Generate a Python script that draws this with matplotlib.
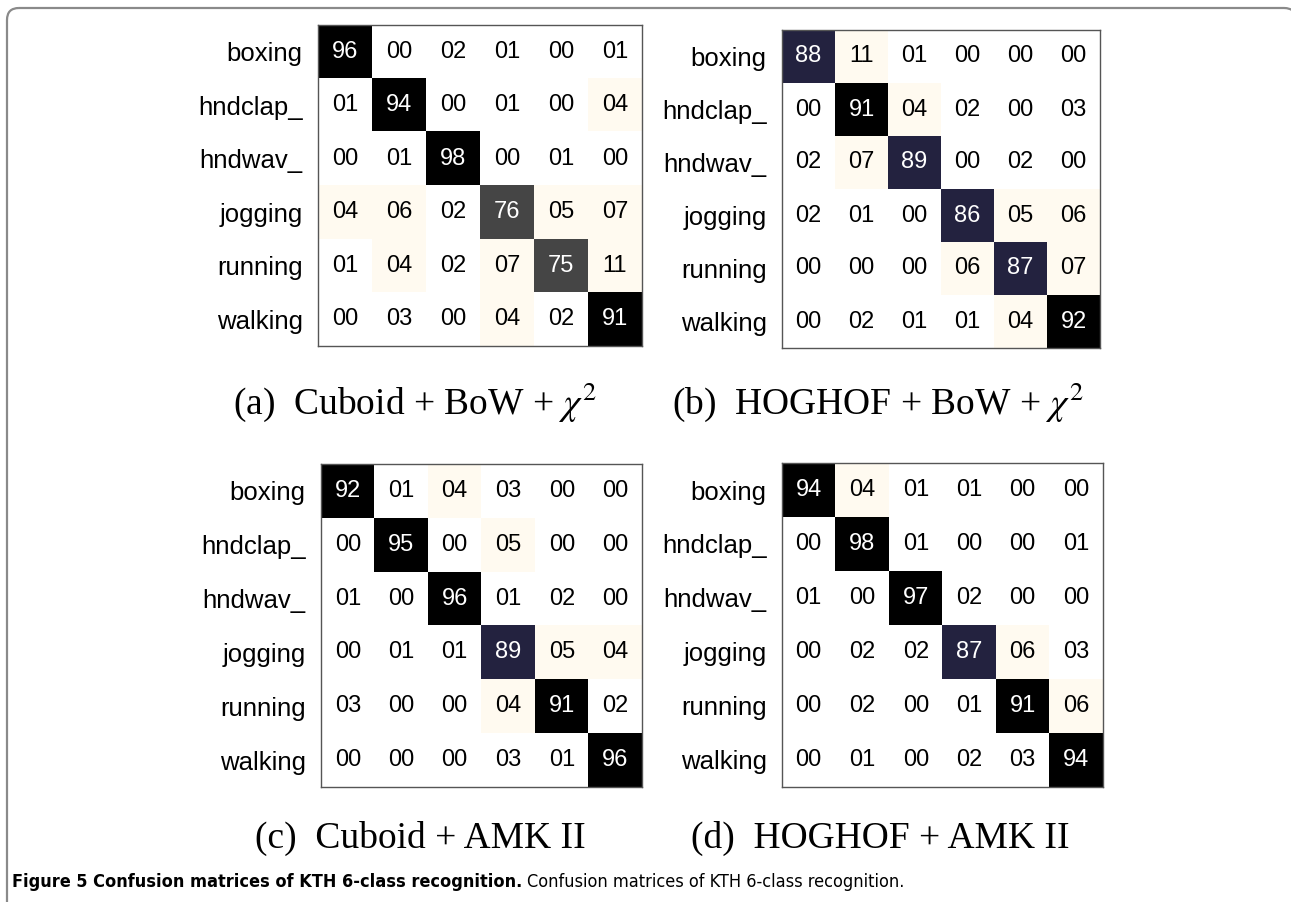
import matplotlib
matplotlib.use("Agg")
import matplotlib.pyplot as plt
import numpy as np
from matplotlib.colors import ListedColormap, BoundaryNorm
from matplotlib.patches import FancyBboxPatch

classes = ["boxing", "hndclap_", "hndwav_", "jogging", "running", "walking"]

cuboid_bow = [[96, 0, 2, 1, 0, 1],
              [1, 94, 0, 1, 0, 4],
              [0, 1, 98, 0, 1, 0],
              [4, 6, 2, 76, 5, 7],
              [1, 4, 2, 7, 75, 11],
              [0, 3, 0, 4, 2, 91]]
hoghof_bow = [[88, 11, 1, 0, 0, 0],
              [0, 91, 4, 2, 0, 3],
              [2, 7, 89, 0, 2, 0],
              [2, 1, 0, 86, 5, 6],
              [0, 0, 0, 6, 87, 7],
              [0, 2, 1, 1, 4, 92]]
cuboid_amk = [[92, 1, 4, 3, 0, 0],
              [0, 95, 0, 5, 0, 0],
              [1, 0, 96, 1, 2, 0],
              [0, 1, 1, 89, 5, 4],
              [3, 0, 0, 4, 91, 2],
              [0, 0, 0, 3, 1, 96]]
hoghof_amk = [[94, 4, 1, 1, 0, 0],
              [0, 98, 1, 0, 0, 1],
              [1, 0, 97, 2, 0, 0],
              [0, 2, 2, 87, 6, 3],
              [0, 2, 0, 1, 91, 6],
              [0, 1, 0, 2, 3, 94]]

captions = [r"(a)  Cuboid + BoW + $\chi^2$",
            r"(b)  HOGHOF + BoW + $\chi^2$",
            r"(c)  Cuboid + AMK II",
            r"(d)  HOGHOF + AMK II"]

W, H = 1291, 902
plt.rcParams["mathtext.fontset"] = "stix"
fig = plt.figure(figsize=(W / 100, H / 100), dpi=100)

cmap = ListedColormap(["#ffffff", "#fffaf0", "#454545", "#23223f", "#000000"])
norm = BoundaryNorm([-0.5, 3.5, 40, 80, 89.5, 101], cmap.N)

# background frame
bg = fig.add_axes([0, 0, 1, 1], zorder=-1)
bg.set_xlim(0, W)
bg.set_ylim(H, 0)
bg.axis("off")
bg.add_patch(FancyBboxPatch((7, 8), 1289, 1200, boxstyle="round,pad=0,rounding_size=12",
                            fc="none", ec="#8a8a8a", lw=1.6))

# (left, top, right, bottom) in pixels
boxes = [(318, 25, 642, 346), (782, 30, 1100, 348),
         (321, 464, 642, 787), (782, 463, 1103, 787)]
cap_pos = [(415, 402), (878, 402), (420, 838), (880, 838)]
mats = [cuboid_bow, hoghof_bow, cuboid_amk, hoghof_amk]

for (l, t, r, b), m, cap, (cx, cy) in zip(boxes, mats, captions, cap_pos):
    ax = fig.add_axes([l / W, 1 - b / H, (r - l) / W, (b - t) / H])
    arr = np.array(m)
    ax.imshow(arr, cmap=cmap, norm=norm, aspect="auto", interpolation="nearest")
    for i in range(arr.shape[0]):
        for j in range(arr.shape[1]):
            v = arr[i, j]
            ax.text(j, i, "%02d" % v, ha="center", va="center",
                    fontsize=17, family="Liberation Sans",
                    color="white" if v >= 70 else "black")
    ax.set_xticks([])
    ax.set_yticks(range(len(classes)))
    ax.set_yticklabels(classes, fontsize=18.5, family="Liberation Sans")
    ax.tick_params(axis="y", length=0, pad=11)
    for s in ax.spines.values():
        s.set_color("#555555")
        s.set_linewidth(1.0)
    fig.text(cx / W, 1 - cy / H, cap, ha="center", va="center",
             fontsize=27, family="Liberation Serif")

t1 = fig.text(12 / W, 1 - 882 / H, "Figure 5 Confusion matrices of KTH 6-class recognition.",
              ha="left", va="center", fontsize=13, fontweight="bold",
              family="DejaVu Sans", fontstretch="condensed")
fig.canvas.draw()
bb = t1.get_window_extent()
fig.text((bb.x1 + 5) / W, 1 - 882 / H, "Confusion matrices of KTH 6-class recognition.",
         ha="left", va="center", fontsize=13,
         family="DejaVu Sans", fontstretch="condensed")

fig.savefig("out.png", dpi=100)
